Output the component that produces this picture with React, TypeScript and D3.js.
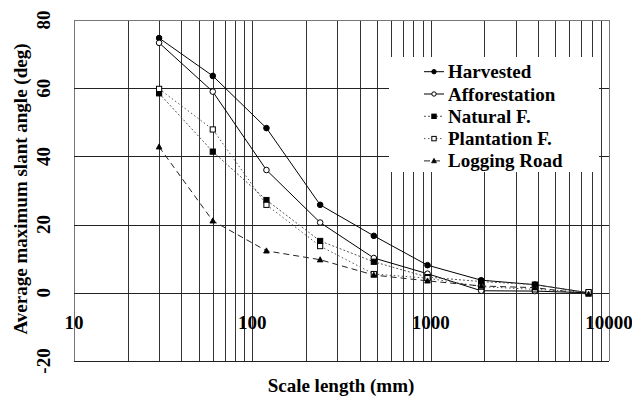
import React, { useEffect, useRef } from 'react';
import * as d3 from 'd3';

// scale lengths (mm), doubling from 30
const scaleLengths = [30, 60, 120, 240, 480, 960, 1920, 3840, 7680];

const harvested = [74.7, 63.6, 48.3, 25.8, 16.7, 8.1, 3.7, 2.4, 0];
const afforestation = [73.3, 59.0, 36.0, 20.6, 10.2, 5.6, 0.6, 0.5, 0];
const naturalF = [58.5, 41.4, 27.2, 15.2, 9.1, 4.6, 3.3, 2.4, 0];
const plantationF = [59.8, 47.9, 25.8, 13.7, 5.5, 4.3, 1.8, 1.0, 0.2];
const loggingRoad = [42.8, 21.1, 12.3, 9.7, 5.2, 3.5, 2.0, 1.5, -0.4];

const seriesNames = ['Harvested', 'Afforestation', 'Natural F.', 'Plantation F.', 'Logging Road'];

const xTickLabels = [10, 100, 1000, 10000];
const yTickLabels = [-20, 0, 20, 40, 60, 80];

const FONT = '"Liberation Serif", "Times New Roman", serif';

export default function App() {
  const ref = useRef<SVGSVGElement>(null);

  useEffect(() => {
    const svg = d3.select(ref.current);
    svg.selectAll('*').remove();

    const x = d3.scaleLog().domain([10, 10000]).range([74, 609]);
    const y = d3.scaleLinear().domain([-20, 80]).range([361, 20]);

    const series = [
      { name: seriesNames[0], values: harvested, dash: null, stroke: '#000', marker: 'circle', fill: '#000' },
      { name: seriesNames[1], values: afforestation, dash: null, stroke: '#000', marker: 'circle', fill: '#fff' },
      { name: seriesNames[2], values: naturalF, dash: '2,2', stroke: '#555', marker: 'square', fill: '#000' },
      { name: seriesNames[3], values: plantationF, dash: '1.5,2.5', stroke: '#555', marker: 'square', fill: '#fff' },
      { name: seriesNames[4], values: loggingRoad, dash: '6,4', stroke: '#222', marker: 'triangle', fill: '#000' },
    ];

    // grid
    const grid = svg.append('g').attr('shape-rendering', 'crispEdges');
    const vTicks: number[] = [];
    for (let d = 10; d < 10000; d *= 10) {
      for (let k = 1; k < 10; k += 1) vTicks.push(d * k);
    }
    vTicks.push(10000);
    grid.selectAll('line.v').data(vTicks).enter().append('line')
      .attr('x1', (d) => Math.round(x(d)) + 0.5)
      .attr('x2', (d) => Math.round(x(d)) + 0.5)
      .attr('y1', y(80))
      .attr('y2', y(-20))
      .style('stroke', (d) => (d === 10 || d === 10000 ? '#777' : '#333'))
      .style('stroke-width', 1);
    grid.selectAll('line.h').data(yTickLabels).enter().append('line')
      .attr('x1', x(10))
      .attr('x2', x(10000))
      .attr('y1', (d) => Math.round(y(d)) + 0.5)
      .attr('y2', (d) => Math.round(y(d)) + 0.5)
      .style('stroke', (d) => (d === 80 ? '#777' : '#222'))
      .style('stroke-width', 1);

    // legend background hides the grid
    svg.append('rect')
      .attr('x', 389).attr('y', 57)
      .attr('width', 210).attr('height', 115)
      .style('fill', '#fff');

    const line = d3.line<number>()
      .x((_, i) => x(scaleLengths[i]))
      .y((d) => y(d));

    const drawMarker = (g, kind, fill, cx, cy, s) => {
      if (kind === 'circle') {
        g.append('circle').attr('cx', cx).attr('cy', cy).attr('r', s)
          .style('fill', fill).style('stroke', '#000').style('stroke-width', 1);
      } else if (kind === 'square') {
        g.append('rect').attr('x', cx - s).attr('y', cy - s)
          .attr('width', s * 2).attr('height', s * 2)
          .style('fill', fill).style('stroke', '#000').style('stroke-width', 1);
      } else {
        g.append('path')
          .attr('d', `M${cx},${cy - s * 1.15}L${cx + s * 1.1},${cy + s * 0.85}L${cx - s * 1.1},${cy + s * 0.85}Z`)
          .style('fill', fill).style('stroke', '#000').style('stroke-width', 0.8);
      }
    };

    const plot = svg.append('g');
    series.forEach((s) => {
      plot.append('path')
        .datum(s.values)
        .attr('d', line)
        .style('fill', 'none')
        .style('stroke', s.stroke)
        .style('stroke-width', 1)
        .style('stroke-dasharray', s.dash);
    });
    series.forEach((s) => {
      const g = plot.append('g');
      s.values.forEach((v, i) => {
        drawMarker(g, s.marker, s.fill, x(scaleLengths[i]), y(v), s.marker === 'circle' ? 2.8 : 2.6);
      });
    });

    // legend
    const legend = svg.append('g');
    series.forEach((s, i) => {
      const cy = 71.7 + i * 22.3;
      legend.append('line')
        .attr('x1', 424).attr('x2', 444)
        .attr('y1', cy).attr('y2', cy)
        .style('stroke', s.stroke)
        .style('stroke-width', 1)
        .style('stroke-dasharray', s.dash);
      drawMarker(legend, s.marker, s.fill, 434, cy, s.marker === 'circle' ? 2.2 : 2.2);
      legend.append('text')
        .attr('x', 448)
        .attr('y', cy + 6.5)
        .style('font-family', FONT)
        .style('font-weight', 'bold')
        .style('font-size', '19px')
        .text(s.name);
    });

    // tick labels
    svg.append('g').selectAll('text').data(xTickLabels).enter().append('text')
      .attr('x', (d) => x(d))
      .attr('y', 328.5)
      .attr('text-anchor', 'middle')
      .style('font-family', FONT)
      .style('font-weight', 'bold')
      .style('font-size', '19px')
      .text((d) => d);

    svg.append('g').selectAll('text').data(yTickLabels).enter().append('text')
      .attr('transform', (d) => `translate(50,${y(d)}) rotate(-90)`)
      .attr('text-anchor', 'middle')
      .style('font-family', FONT)
      .style('font-weight', 'bold')
      .style('font-size', '19px')
      .text((d) => d);

    // axis titles
    svg.append('text')
      .attr('x', 341)
      .attr('y', 392)
      .attr('text-anchor', 'middle')
      .style('font-family', FONT)
      .style('font-weight', 'bold')
      .style('font-size', '19px')
      .text('Scale length (mm)');

    svg.append('text')
      .attr('transform', 'translate(27,189) rotate(-90)')
      .attr('text-anchor', 'middle')
      .style('font-family', FONT)
      .style('font-weight', 'bold')
      .style('font-size', '19px')
      .text('Average maximum slant angle (deg)');
  }, []);

  return (
    <svg
      ref={ref}
      width={632}
      height={397}
      style={{ position: 'absolute', left: 0, top: 0, background: '#fff' }}
    />
  );
}
